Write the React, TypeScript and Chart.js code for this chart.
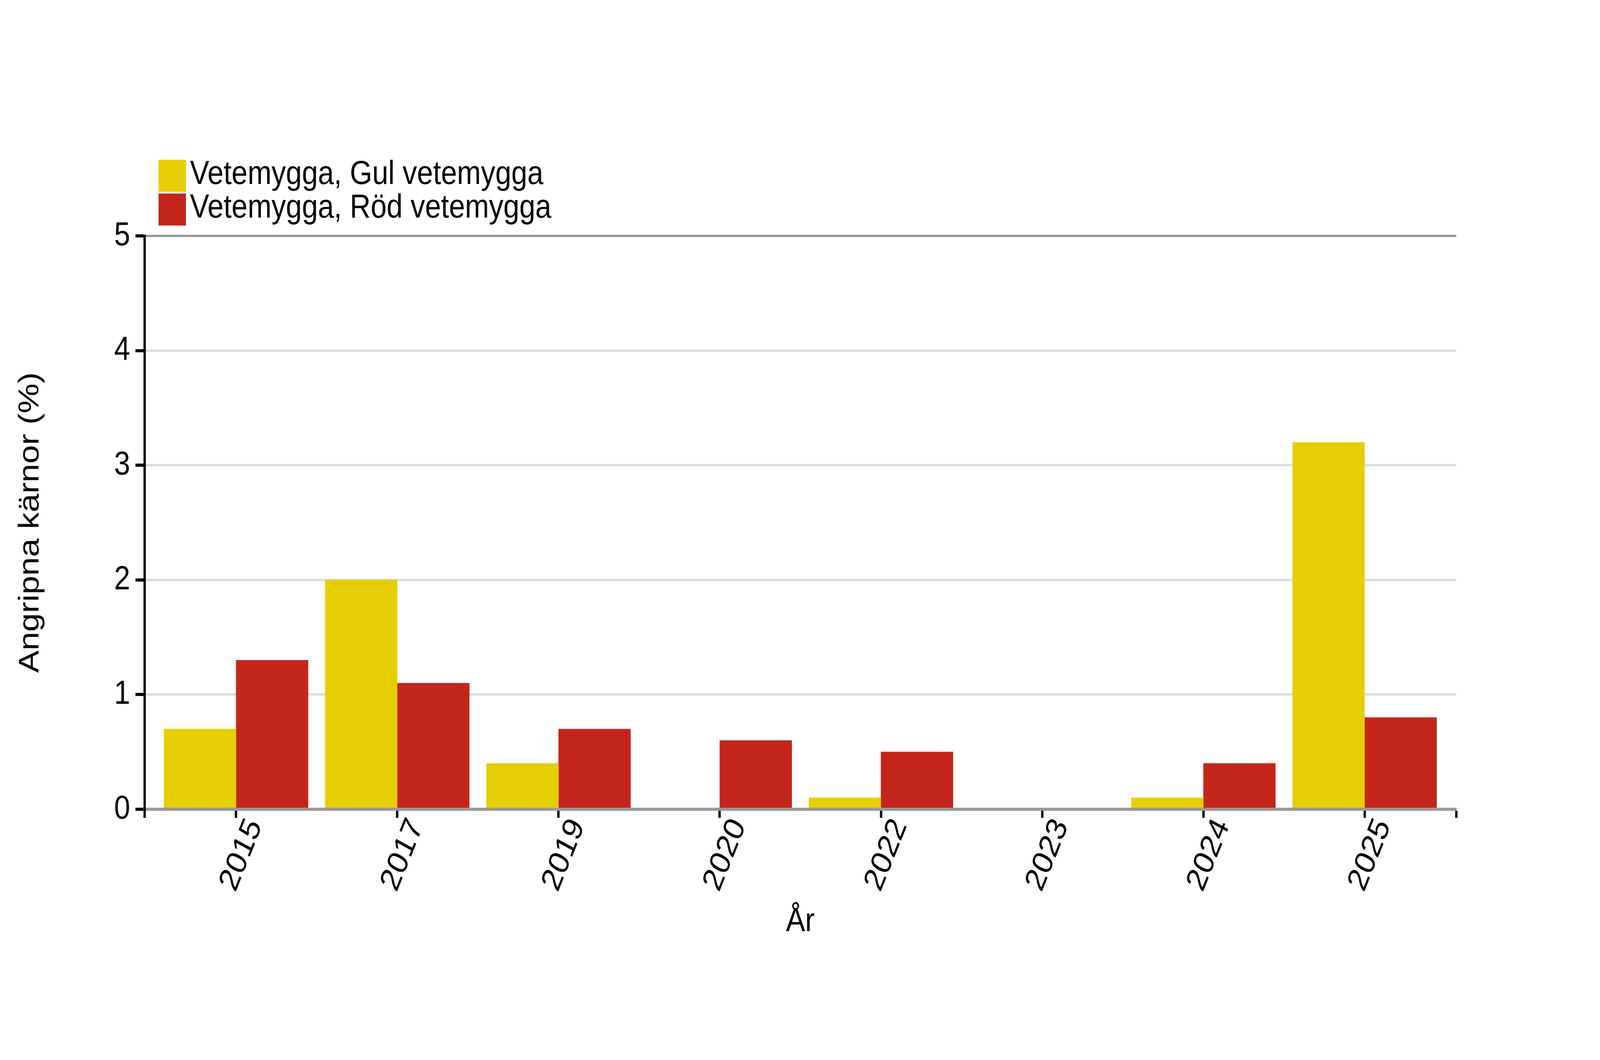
import React, { useEffect, useRef } from 'react';
import { Chart, registerables } from 'chart.js';

Chart.register(...registerables);

const FONT = "'Liberation Sans', Arial, Helvetica, sans-serif";

const years = ['2015', '2017', '2019', '2020', '2022', '2023', '2024', '2025'];
const gulVetemygga = [0.7, 2.0, 0.4, 0, 0.1, 0, 0.1, 3.2];
const rodVetemygga = [1.3, 1.1, 0.7, 0.6, 0.5, 0, 0.4, 0.8];
const seriesLabels = ['Vetemygga, Gul vetemygga', 'Vetemygga, Röd vetemygga'];
const seriesColors = ['#E6CE05', '#C4251A'];
const yTickValues = [0, 1, 2, 3, 4, 5];
const xTitle = 'År';
const yTitle = 'Angripna kärnor (%)';

// drawing surface in design pixels; CSS stretches it to fill the window
const CANVAS_W = 4784;
const CANVAS_H = 2714;

const stackedLegend = {
  id: 'stackedLegend',
  afterDraw(chart: any) {
    const { ctx } = chart;
    const box = 82;
    const row = 86.5;
    const left = 474;
    const top = 409;
    ctx.save();
    chart.data.datasets.forEach((ds: any, i: number) => {
      const y = top + i * row;
      ctx.fillStyle = ds.backgroundColor;
      ctx.fillRect(left, y, box, box);
      ctx.fillStyle = '#000';
      ctx.font = `86px ${FONT}`;
      ctx.textAlign = 'left';
      ctx.textBaseline = 'middle';
      ctx.fillText(ds.label, left + box + 12, y + box / 2 - 3);
    });
    ctx.restore();
  },
};

export default function App() {
  const ref = useRef<HTMLCanvasElement>(null);

  useEffect(() => {
    Chart.defaults.font.family = FONT;
    const pad = 0.568;

    const chart = new Chart(ref.current as HTMLCanvasElement, {
      type: 'bar',
      data: {
        datasets: [
          {
            label: seriesLabels[0],
            data: years.map((_, i) => ({ x: i, y: gulVetemygga[i] })),
            backgroundColor: seriesColors[0],
            borderWidth: 0,
            barThickness: 215.5,
          },
          {
            label: seriesLabels[1],
            data: years.map((_, i) => ({ x: i, y: rodVetemygga[i] })),
            backgroundColor: seriesColors[1],
            borderWidth: 0,
            barThickness: 215.5,
          },
        ],
      },
      options: {
        animation: false,
        responsive: false,
        devicePixelRatio: 1,
        layout: { padding: { top: 604, right: CANVAS_W - 4354, bottom: 0, left: 0 } },
        plugins: {
          legend: { display: false },
          tooltip: { enabled: false },
        },
        scales: {
          x: {
            type: 'linear',
            bounds: 'data',
            offset: false,
            min: -pad,
            max: years.length - 1 + pad,
            afterBuildTicks: (scale: any) => {
              scale.ticks = [-pad, ...years.map((_, i) => i), years.length - 1 + pad].map((v) => ({ value: v }));
            },
            afterFit: (scale: any) => {
              scale.height = CANVAS_H - 2072;
            },
            ticks: {
              autoSkip: false,
              maxRotation: 65,
              minRotation: 65,
              padding: -13,
              labelOffset: 57,
              color: '#000',
              font: { size: 86 },
              callback: (v: any) => (Number.isInteger(v) ? years[v] : ''),
            },
            grid: {
              display: true,
              offset: false,
              drawOnChartArea: false,
              drawTicks: true,
              tickLength: 22,
              tickColor: '#000',
              tickWidth: 7,
            },
            border: { display: true, color: '#999999', width: 8, z: 1 },
            title: {
              display: true,
              text: xTitle,
              color: '#000',
              font: { size: 86 },
              padding: { top: 0, bottom: 302 },
            },
          },
          y: {
            min: 0,
            max: 5,
            afterBuildTicks: (scale: any) => {
              scale.ticks = yTickValues.map((v) => ({ value: v }));
            },
            afterFit: (scale: any) => {
              scale.width = 432;
            },
            ticks: { color: '#000', font: { size: 86 }, padding: 16, stepSize: 1 },
            grid: {
              color: (c: any) => (c.tick && (c.tick.value === 0 || c.tick.value === 5) ? '#9a9a9a' : '#dddddd'),
              lineWidth: (c: any) => (c.tick && c.tick.value === 0 ? 8 : 6),
              tickColor: '#000',
              tickWidth: 8,
              tickLength: 27,
            },
            border: { display: true, color: '#000', width: 7, z: 1 },
            title: {
              display: true,
              text: yTitle,
              color: '#000',
              font: { size: 86 },
              padding: { top: 40, bottom: 0 },
            },
          },
        },
      } as any,
      plugins: [stackedLegend],
    });
    return () => chart.destroy();
  }, []);

  return (
    <div style={{ position: 'fixed', left: 0, top: 0, width: '100vw', height: '100vh', overflow: 'hidden', background: '#fff' }}>
      <canvas
        ref={ref}
        width={CANVAS_W}
        height={CANVAS_H}
        style={{ display: 'block', width: '100vw', height: '100vh' }}
      />
    </div>
  );
}
